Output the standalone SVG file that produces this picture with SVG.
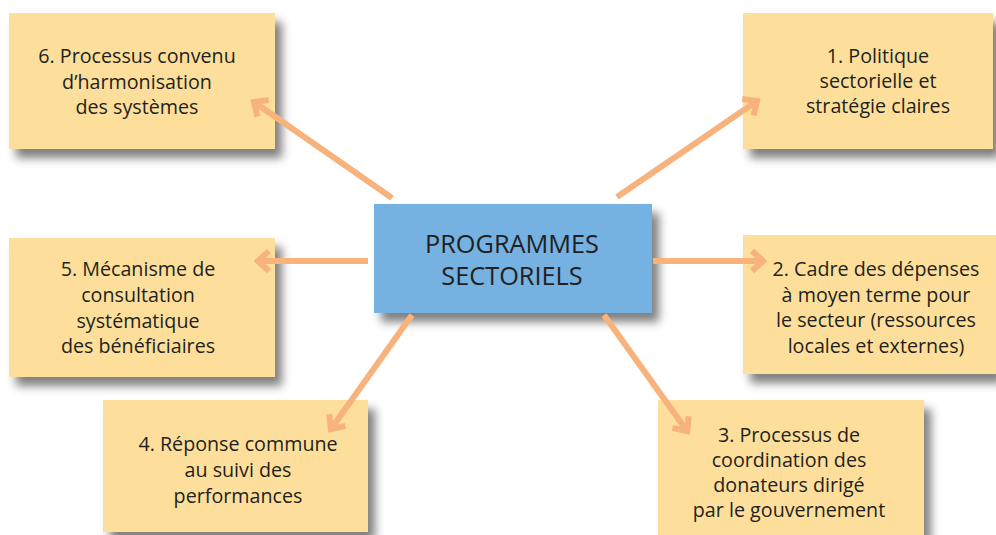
<svg xmlns="http://www.w3.org/2000/svg" width="996" height="535" viewBox="0 0 996 535">
<defs>
<filter id="sh" x="-10%" y="-10%" width="130%" height="140%">
<feGaussianBlur in="SourceAlpha" stdDeviation="5"/>
<feOffset dx="7" dy="9" result="b"/>
<feFlood flood-color="#000" flood-opacity="0.5"/>
<feComposite in2="b" operator="in"/>
<feMerge><feMergeNode/><feMergeNode in="SourceGraphic"/></feMerge>
</filter>
<marker id="ah" markerUnits="userSpaceOnUse" markerWidth="30" markerHeight="30" viewBox="-20 -15 30 30" refX="0" refY="0" orient="auto">
<path d="M-11,-10 L0,0 L-11,10" fill="none" stroke="#F8B27C" stroke-width="6"/>
</marker>
<style>
.box{fill:#FDDF9B;filter:url(#sh)}
.ctr{fill:#74B1E1;filter:url(#sh)}
.t{font-family:"Open Sans","Noto Sans",sans-serif;font-size:19.7px;fill:#231F20;text-anchor:middle}
.tc{font-family:"Open Sans","Noto Sans",sans-serif;font-size:25.3px;fill:#231F20;text-anchor:middle}
.a{stroke:#F8B27C;stroke-width:6;fill:none;marker-end:url(#ah)}
</style>
</defs>
<rect width="996" height="535" fill="#fff"/>
<g id="n6"><rect class="box" x="9" y="13" width="266" height="136"/>
<text class="t"><tspan x="137" y="63">6. Processus convenu</tspan><tspan x="137" y="89">d’harmonisation</tspan><tspan x="137" y="114">des systèmes</tspan></text></g>
<g id="n1"><rect class="box" x="743" y="13" width="250" height="136"/>
<text class="t"><tspan x="878" y="63">1. Politique</tspan><tspan x="878" y="88">sectorielle et</tspan><tspan x="878" y="113">stratégie claires</tspan></text></g>
<g id="n5"><rect class="box" x="9" y="238" width="266" height="139"/>
<text class="t"><tspan x="138" y="276">5. Mécanisme de</tspan><tspan x="138" y="302">consultation</tspan><tspan x="138" y="328">systématique</tspan><tspan x="138" y="353">des bénéficiaires</tspan></text></g>
<g id="n2"><rect class="box" x="743" y="235" width="253" height="139"/>
<text class="t"><tspan x="876" y="276">2. Cadre des dépenses</tspan><tspan x="876" y="302">à moyen terme pour</tspan><tspan x="876" y="327">le secteur (ressources</tspan><tspan x="876" y="353">locales et externes)</tspan></text></g>
<g id="n4"><rect class="box" x="103" y="400" width="265" height="132"/>
<text class="t"><tspan x="238" y="451">4. Réponse commune</tspan><tspan x="238" y="477">au suivi des</tspan><tspan x="238" y="503">performances</tspan></text></g>
<g id="n3"><rect class="box" x="658" y="400" width="266" height="140"/>
<text class="t"><tspan x="789" y="442">3. Processus de</tspan><tspan x="789" y="467">coordination des</tspan><tspan x="789" y="492">donateurs dirigé</tspan><tspan x="789" y="517">par le gouvernement</tspan></text></g>
<g id="center"><rect class="ctr" x="374" y="204" width="278" height="109"/>
<text class="tc"><tspan x="512" y="253">PROGRAMMES</tspan><tspan x="512" y="285">SECTORIELS</tspan></text></g>
<g id="connectors">
<line class="a" x1="392" y1="198" x2="254" y2="102"/>
<line class="a" x1="617" y1="197" x2="757" y2="101"/>
<line class="a" x1="368" y1="261" x2="258" y2="261"/>
<line class="a" x1="653" y1="261" x2="763" y2="261"/>
<line class="a" x1="412" y1="315" x2="331" y2="429"/>
<line class="a" x1="604" y1="315" x2="687" y2="431"/>
</g>
</svg>
